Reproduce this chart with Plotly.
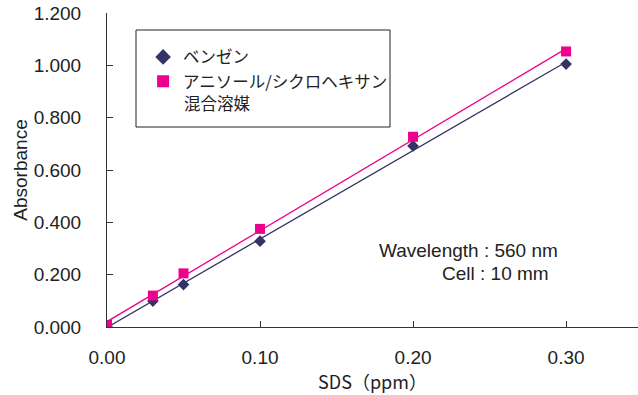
import numpy as np
import plotly.graph_objects as go

sds = [0.0, 0.03, 0.05, 0.10, 0.20, 0.30]
benzene = [0.003, 0.099, 0.162, 0.328, 0.692, 1.005]
anisole = [0.008, 0.120, 0.205, 0.375, 0.727, 1.053]

names = ["ベンゼン", "アニソール/シクロヘキサン"]
name2_line2 = "混合溶媒"
c_blue = "#333366"
c_pink = "#EC008C"

fig = go.Figure()

def fit(xs, ys):
    k, b = np.polyfit(xs, ys, 1)
    xx = [min(xs), max(xs)]
    return xx, [k * v + b for v in xx]

for ys, col in [(benzene, c_blue), (anisole, c_pink)]:
    fx, fy = fit(sds, ys)
    fig.add_trace(go.Scatter(x=fx, y=fy, mode="lines", line=dict(color=col, width=1.3),
                             showlegend=False, hoverinfo="skip"))

fig.add_trace(go.Scatter(x=sds, y=benzene, mode="markers", name=names[0],
                         marker=dict(symbol="diamond", size=9, color=c_blue)))
fig.add_trace(go.Scatter(x=sds, y=anisole, mode="markers", name=names[1],
                         marker=dict(symbol="square", size=10, color=c_pink)))

base_font = "Liberation Sans, Arial, sans-serif"
jp_font = "Noto Sans CJK JP, sans-serif"

fig.update_layout(
    width=638, height=395,
    margin=dict(l=107, r=0, t=13, b=68),
    paper_bgcolor="white", plot_bgcolor="white",
    font=dict(family=base_font, size=19, color="#222222"),
    xaxis=dict(range=[0, 0.347], tickvals=[0, 0.1, 0.2, 0.3], tickformat=".2f",
               showgrid=False, zeroline=False, showline=True, linecolor="#333333", linewidth=1,
               ticks="inside", ticklen=6, tickcolor="#333333", ticklabelstandoff=13,
               title=dict(text="SDS（ppm）", font=dict(family=jp_font, size=18), standoff=8)),
    yaxis=dict(range=[0, 1.2], dtick=0.2, tickformat=".3f",
               showgrid=False, zeroline=False, showline=True, linecolor="#333333", linewidth=1,
               ticks="inside", ticklen=6, tickcolor="#333333", ticklabelstandoff=21,
               title=dict(text="Absorbance", font=dict(family=base_font, size=19), standoff=1)),
    legend=dict(x=0.068, y=0.915, xanchor="left", yanchor="top",
                bgcolor="rgba(0,0,0,0)", borderwidth=0,
                font=dict(family=jp_font, size=16.5, color="#222222"),
                tracegroupgap=2, itemsizing="constant"),
    shapes=[dict(type="rect", xref="paper", yref="paper",
                 x0=(136 - 107) / 531, x1=(390 - 107) / 531,
                 y0=(327 - 127) / 314, y1=(327 - 30) / 314,
                 line=dict(color="#222222", width=1), fillcolor="rgba(0,0,0,0)")],
    annotations=[
        dict(text=name2_line2, x=(182 - 107) / 531, y=(327 - 103) / 314, xref="paper", yref="paper",
             showarrow=False, xanchor="left", yanchor="middle",
             font=dict(family=jp_font, size=16.5, color="#222222")),
        dict(text="Wavelength : 560 nm", x=0.1764, y=0.294, xref="x", yref="y",
             showarrow=False, xanchor="left", yanchor="middle", font=dict(size=19)),
        dict(text="Cell : 10 mm", x=0.254, y=0.206, xref="x", yref="y",
             showarrow=False, xanchor="center", yanchor="middle", font=dict(size=19)),
    ],
)

fig.write_html("out.html")
